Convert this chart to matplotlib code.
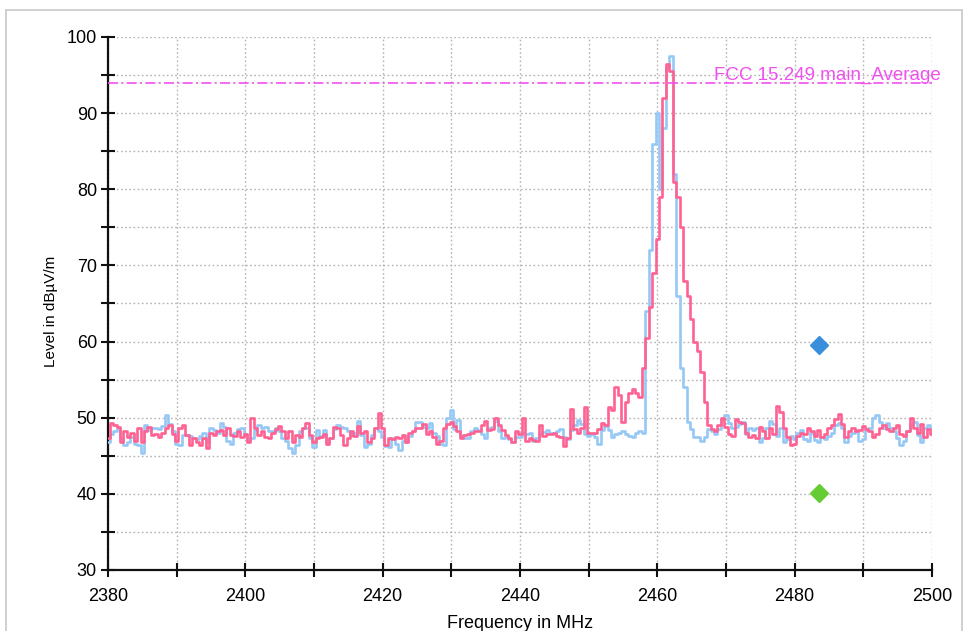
import matplotlib.pyplot as plt
import matplotlib.patches as patches
import numpy as np

plt.rcParams['font.family'] = ['Liberation Sans', 'DejaVu Sans']

# sweep: 2380 .. 2500 MHz, 0.5 MHz steps
f_start, f_step = 2380.0, 0.5

level_red = [
    47.3, 49.3, 49.0, 48.8, 46.8, 48.2, 47.5, 48.0, 47.0, 48.6,
    46.8, 48.2, 48.8, 47.7, 47.9, 47.5, 48.0, 48.6, 49.0, 47.8,
    47.0, 48.6, 49.0, 47.7, 46.4, 47.3, 46.8, 46.4, 47.3, 46.0,
    48.0, 47.7, 48.2, 48.4, 47.7, 48.6, 47.7, 47.6, 48.2, 47.5,
    47.9, 46.8, 49.9, 48.6, 47.7, 48.2, 47.5, 47.3, 48.0, 48.5,
    48.9, 48.2, 47.3, 48.2, 46.8, 47.7, 47.5, 48.6, 49.3, 47.7,
    46.8,
    47.3, 47.5, 47.9, 46.6, 47.3, 48.8, 48.6, 47.7, 46.4, 47.3,
    48.2, 47.6, 48.9, 48.0, 48.2, 46.8, 47.3, 48.6, 50.6, 48.6,
    46.4, 47.3, 47.2, 47.4, 47.3, 47.7, 46.8, 48.0, 48.2, 48.6,
    48.6, 49.2, 47.8, 48.2, 47.5, 46.5, 47.0, 48.6, 49.2, 49.5,
    48.9, 48.2, 47.3, 47.7, 47.9, 48.0, 48.2, 48.2, 49.0, 49.6,
    48.4, 48.5, 49.9, 49.0, 48.4, 47.7, 47.3, 46.8, 48.2, 47.8,
    50.0, 47.0, 47.3, 47.1, 47.0, 49.0, 47.6, 47.8, 47.9, 48.0,
    47.6, 47.4, 46.3, 47.3, 51.2, 48.5, 48.0, 48.6, 51.4, 48.0,
    48.0, 48.0, 48.5, 49.3, 49.0, 51.4, 51.0, 54.0, 53.0, 49.4,
    52.0, 53.2, 53.8, 53.3, 52.7, 56.5,
    60.5, 64.5, 69.0, 73.5, 79.0, 92.0, 96.5, 95.5, 81.0, 79.0,
    75.0, 68.0, 66.0, 63.0, 60.0, 58.8, 56.0, 52.0, 49.0, 48.5,
    48.2, 49.0, 50.0, 48.8, 47.9, 47.6, 49.8, 49.5, 49.3, 48.0,
    47.5, 47.7, 47.3, 48.8, 48.3, 47.3, 48.6, 47.8, 51.5, 50.8,
    48.6, 47.5, 46.4, 46.6, 47.6, 48.0, 47.9, 48.6, 48.2, 47.6,
    48.4, 47.5, 47.9, 48.6, 49.0, 49.8, 50.5, 49.2, 47.5, 48.2,
    48.6, 48.2, 48.4, 48.9, 48.5, 48.3, 47.4, 47.8, 48.6, 49.0,
    48.5, 48.2, 48.7, 49.0, 47.9, 47.6, 48.3, 50.0, 48.6, 48.0,
    49.2, 47.4, 48.5, 47.8,
]

level_blue = [
    46.8, 47.9, 48.2, 48.6, 47.3, 46.4, 46.8, 47.5, 46.5, 46.4,
    45.3, 49.0, 48.4, 48.6, 48.6, 48.5, 48.9, 50.4, 49.2, 48.2,
    46.6, 46.4, 47.7, 47.7, 47.6, 47.3, 47.2, 47.6, 48.0, 46.8,
    48.6, 48.4, 48.0, 49.3, 48.8, 46.9, 46.6, 48.0, 48.5, 48.6,
    47.8, 46.9, 47.3, 48.4, 49.0, 48.6, 48.8, 48.3, 48.3, 48.6,
    48.2, 47.3, 46.9, 46.0, 45.3, 46.4, 48.2, 48.6, 48.6, 47.3,
    46.2,
    48.4, 47.6, 48.4, 46.8, 47.3, 48.5, 49.0, 48.8, 48.6, 48.3,
    47.7, 48.0, 49.6, 47.7, 46.2, 46.5, 47.7, 48.6, 48.3, 47.5,
    46.3, 46.2, 47.3, 46.6, 45.7, 47.0, 46.8, 47.6, 48.2, 49.5,
    49.4, 48.8, 48.6, 49.3, 48.0, 47.6, 46.6, 46.4, 50.0, 51.0,
    48.5, 49.7, 47.6, 47.3, 47.3, 48.2, 48.6, 48.4, 47.8, 47.3,
    48.6, 48.8, 49.6, 48.2, 47.3, 47.6, 47.2, 46.8, 47.4, 47.5,
    48.0, 47.8, 48.0, 47.0, 47.3, 47.8, 48.1, 48.4, 48.0, 47.8,
    48.2, 48.5, 47.5, 47.2, 48.4, 49.0, 49.7, 49.2, 47.8, 47.6,
    47.8, 47.5, 46.6, 48.4, 48.9, 48.4, 47.5, 47.8, 48.0, 48.2,
    47.8, 47.6, 47.4, 48.0, 48.2, 48.0,
    64.0, 72.0, 86.0, 90.0, 80.0, 88.0, 96.0, 97.5, 82.0, 66.0,
    56.5, 54.0, 49.5, 48.5, 47.5, 47.5, 47.0, 47.5, 48.5, 48.2,
    47.8, 48.5, 49.8, 50.4, 49.3, 48.6, 48.8, 49.2, 49.5, 47.8,
    48.6, 48.4, 48.6, 46.8, 47.3, 48.7, 49.6, 49.2, 47.6, 48.6,
    46.8, 47.2, 47.6, 47.2, 48.0, 48.4, 47.2, 47.0, 48.0, 47.1,
    46.8, 47.5, 47.2, 47.6, 48.0, 49.0, 49.3, 48.6, 46.8, 47.6,
    48.0, 48.4, 47.0, 47.2, 48.4, 48.6, 50.0, 50.3, 49.5, 48.6,
    49.3, 48.6, 48.2, 47.3, 46.4, 46.9, 48.2, 49.0, 49.4, 47.7,
    46.8, 48.6, 49.0, 48.6,
]

freq = f_start + f_step * np.arange(len(level_red))

limit_level = 94.0
limit_label = 'FCC 15.249 main_Average'

# final measurement points
meas_freq = [2483.5, 2483.5]
meas_level = [59.6, 40.1]
meas_color = ['#3a8fdc', '#66cc33']

fig = plt.figure(figsize=(9.67, 6.31), dpi=100)
ax = fig.add_axes([0.1117, 0.0967, 0.8521, 0.8447])

# grey frame around the whole picture
fig.patches.append(patches.Rectangle((0.0067, -0.05), 0.988, 1.034,
                                     transform=fig.transFigure, fill=False,
                                     edgecolor='#c8c8c8', lw=1.2))

ax.plot(freq, level_blue, color='#96c8f5', lw=1.9, drawstyle='steps-mid', zorder=3)
ax.plot(freq, level_red, color='#ff6192', lw=1.9, drawstyle='steps-mid', zorder=4)

ax.axhline(limit_level, color='#f050f0', lw=1.2, ls=(0, (6, 2, 1.2, 2)), zorder=5)
ax.text(2501.3, limit_level + 0.35, limit_label, color='#f050f0', fontsize=13.5,
        ha='right', va='baseline', clip_on=False, zorder=6)

for fx, lv, c in zip(meas_freq, meas_level, meas_color):
    ax.plot(fx, lv, marker='D', ms=8.7, color=c, mec=c, ls='none', zorder=6)

ax.set_xlim(2380, 2500)
ax.set_ylim(30, 100)
ax.set_xticks(np.arange(2380, 2501, 20))
ax.set_xticks(np.arange(2390, 2500, 20), minor=True)
ax.set_yticks(np.arange(30, 101, 10))
ax.set_yticks(np.arange(35, 100, 10), minor=True)

ax.grid(which='both', color='#b4b4b4', ls=(0, (1.2, 1.8)), lw=1.0)
ax.set_axisbelow(True)

for s in ['top', 'right']:
    ax.spines[s].set_visible(False)
for s in ['left', 'bottom']:
    ax.spines[s].set_linewidth(1.6)
    ax.spines[s].set_color('#111111')

ax.tick_params(which='both', direction='inout', length=10, width=1.5,
               color='#111111', labelsize=13, pad=3)
ax.tick_params(axis='x', which='both', pad=8)

ax.set_xlabel('Frequency in MHz', fontsize=13, labelpad=7)
ax.set_ylabel('Level in dBµV/m', fontsize=11)
ax.yaxis.set_label_coords(-0.061, 0.486)

fig.savefig('out.png', dpi=100)
